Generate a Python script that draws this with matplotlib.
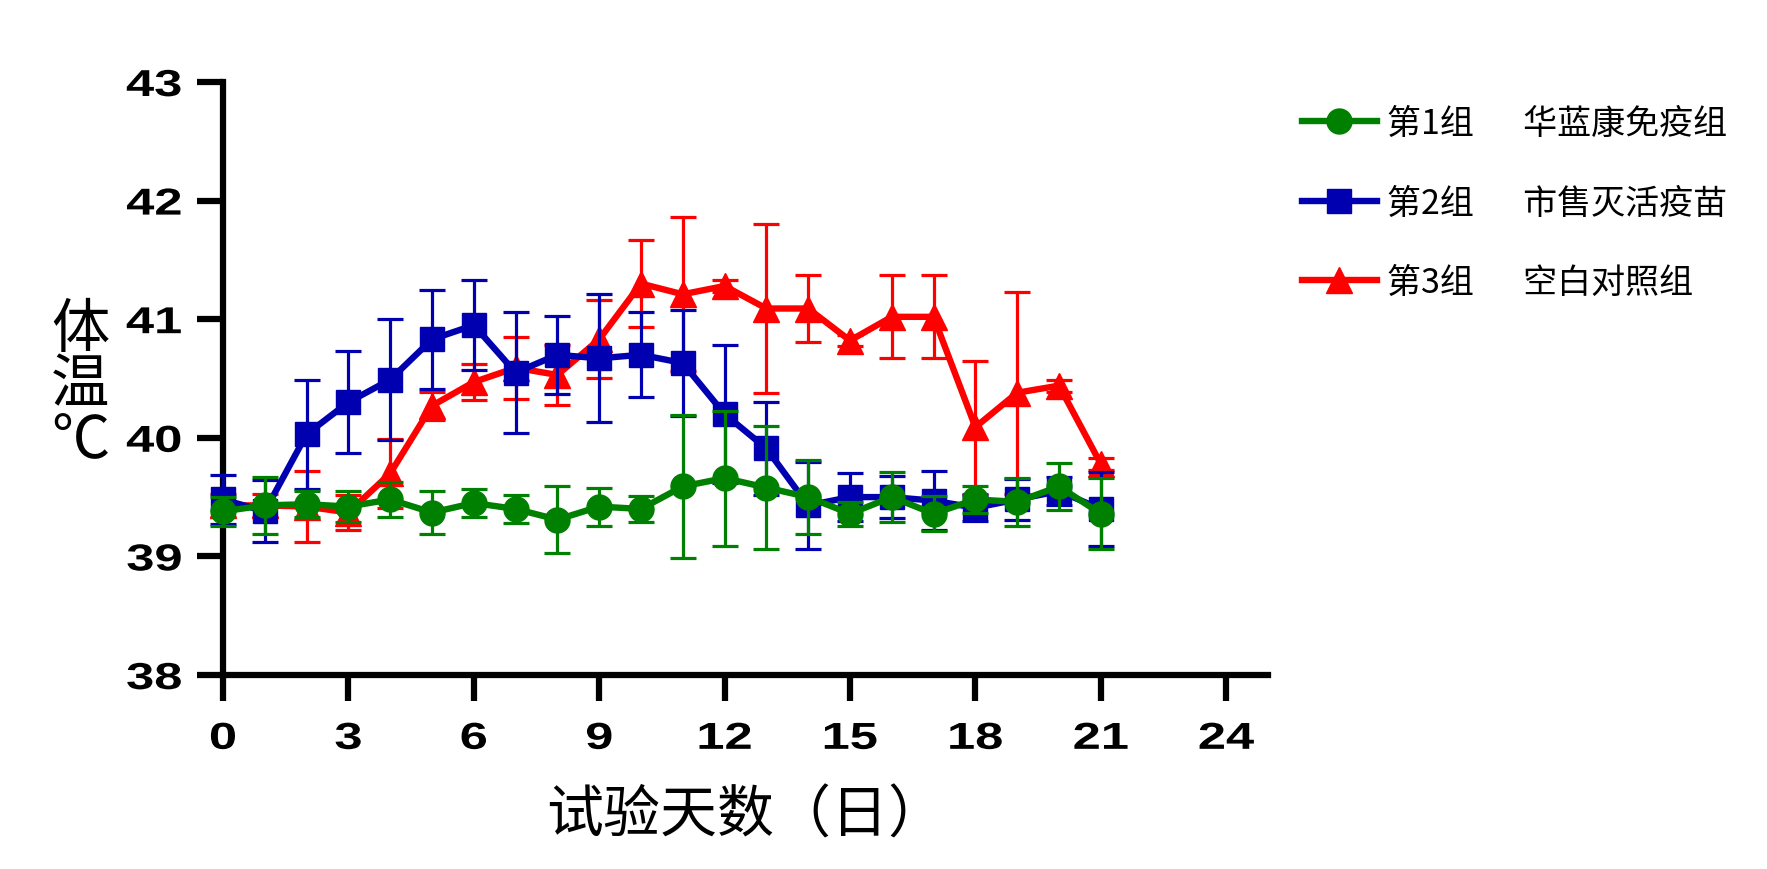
import matplotlib
matplotlib.use("Agg")
import matplotlib.pyplot as plt
from matplotlib.patheffects import AbstractPathEffect
from matplotlib.transforms import Affine2D

# ---------------- data ----------------
days = list(range(22))

g1_label = "第1组\u3000  华蓝康免疫组"
g1_mean = [39.38, 39.43, 39.44, 39.42, 39.48, 39.37, 39.45, 39.40, 39.31, 39.42, 39.40,
           39.59, 39.66, 39.58, 39.50, 39.36, 39.50, 39.36, 39.48, 39.46, 39.59, 39.36]
g1_err = [0.12, 0.24, 0.11, 0.13, 0.15, 0.18, 0.12, 0.12, 0.28, 0.16, 0.11,
          0.60, 0.57, 0.52, 0.31, 0.10, 0.21, 0.15, 0.11, 0.20, 0.20, 0.30]

g2_label = "第2组\u3000  市售灭活疫苗"
g2_mean = [39.48, 39.38, 40.03, 40.30, 40.49, 40.83, 40.95, 40.55, 40.70, 40.67, 40.70,
           40.63, 40.20, 39.91, 39.43, 39.50, 39.50, 39.47, 39.41, 39.48, 39.55, 39.40]
g2_err = [0.21, 0.26, 0.46, 0.43, 0.51, 0.42, 0.38, 0.51, 0.33, 0.54, 0.36,
          0.45, 0.58, 0.39, 0.37, 0.20, 0.18, 0.25, 0.11, 0.17, 0.12, 0.31]

g3_label = "第3组\u3000  空白对照组"
g3_mean = [39.43, 39.43, 39.42, 39.37, 39.70, 40.27, 40.47, 40.59, 40.53, 40.83, 41.30,
           41.21, 41.28, 41.09, 41.09, 40.82, 41.02, 41.02, 40.09, 40.38, 40.44, 39.78]
g3_err = [0.10, 0.10, 0.30, 0.15, 0.29, 0.12, 0.15, 0.26, 0.25, 0.33, 0.37,
          0.65, 0.05, 0.71, 0.28, 0.05, 0.35, 0.35, 0.56, 0.85, 0.05, 0.05]

x_ticks = list(range(0, 25, 3))
y_ticks = [38, 39, 40, 41, 42, 43]
x_label = "试验天数（日）"
y_label = "体\n温\n℃"

# ---------------- style helpers ----------------
class HStretch(AbstractPathEffect):
    """Horizontally widen text glyphs (bold, wide tick numerals)."""
    def __init__(self, sx=1.5, anchor="center"):
        super().__init__()
        self.sx = sx
        self.anchor = anchor

    def draw_path(self, renderer, gc, tpath, affine, rgbFace=None):
        ext = tpath.get_extents()
        if self.anchor == "center":
            cx = (ext.x0 + ext.x1) / 2
        elif self.anchor == "right":
            cx = ext.x1
        else:
            cx = ext.x0
        t = Affine2D().translate(-cx, 0).scale(self.sx, 1).translate(cx, 0) + affine
        renderer.draw_path(gc, tpath, t, rgbFace)


CJK = ["Noto Sans CJK SC", "DejaVu Sans"]

fig = plt.figure(figsize=(17.67, 8.70), dpi=100)
ax = fig.add_axes([0.1262, 0.2230, 0.5914, 0.6816])

series = [
    (g3_mean, g3_err, g3_label, "#ff0000", "^", 19, 3),
    (g2_mean, g2_err, g2_label, "#0000b0", "s", 17.5, 4),
    (g1_mean, g1_err, g1_label, "#008000", "o", 18, 5),
]
handles = {}
for mean, err, label, col, mk, ms, z in series:
    c = ax.errorbar(days, mean, yerr=err, color=col, marker=mk, markersize=ms,
                    linewidth=4.6, elinewidth=2.3, capsize=9.5, capthick=2.3,
                    label=label, zorder=z, clip_on=False)
    for art in c.get_children():
        art.set_clip_on(False)
    handles[label] = c[0]

ax.set_xlim(0, 25)
ax.set_ylim(38, 43)
ax.set_xticks(x_ticks)
ax.set_yticks(y_ticks)

for s in ["top", "right"]:
    ax.spines[s].set_visible(False)
for s in ["left", "bottom"]:
    ax.spines[s].set_linewidth(4.5)
    ax.spines[s].set_capstyle("projecting")

ax.tick_params(axis="both", width=4.5, length=19, direction="out", color="black")
ax.tick_params(axis="x", pad=14)
ax.tick_params(axis="y", pad=10.5)

for lbl in ax.get_xticklabels():
    lbl.set_fontfamily("Liberation Sans")
    lbl.set_fontweight("bold")
    lbl.set_fontsize(27)
    lbl.set_path_effects([HStretch(1.35, "center")])
for lbl in ax.get_yticklabels():
    lbl.set_fontfamily("Liberation Sans")
    lbl.set_fontweight("bold")
    lbl.set_fontsize(27)
    lbl.set_path_effects([HStretch(1.35, "right")])

ax.set_xlabel(x_label, fontsize=41, family=CJK, va="center")
ax.xaxis.set_label_coords(0.5, -0.236)

fig.text(0.0453, 0.556, y_label, fontsize=42, family=CJK, ha="center",
         va="center", multialignment="center", linespacing=0.88)

leg_order = [g1_label, g2_label, g3_label]
fig.legend([handles[l] for l in leg_order], leg_order,
           loc="upper left", bbox_to_anchor=(1302 / 1767, 1 - 107 / 870),
           bbox_transform=fig.transFigure, frameon=False,
           prop={"family": CJK, "size": 24.5}, handlelength=2.2,
           handletextpad=0.3, labelspacing=1.31, borderpad=0, borderaxespad=0,
           numpoints=1)

fig.savefig("out.png", dpi=100)
